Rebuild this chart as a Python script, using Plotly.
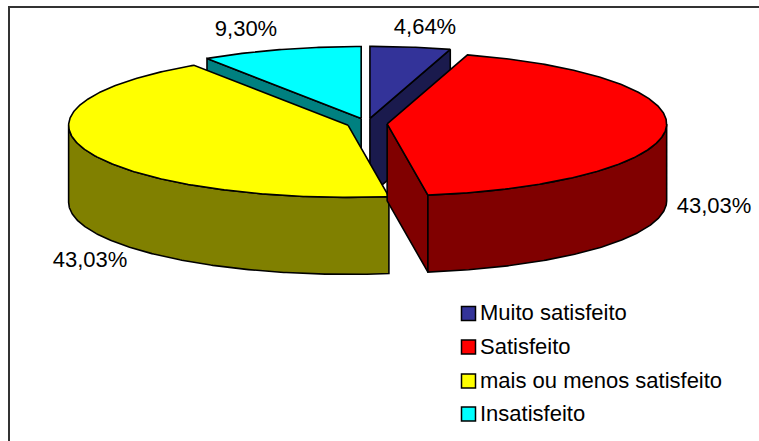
import numpy as np
import plotly.graph_objects as go

# Survey results
categories = ["Muito satisfeito", "Satisfeito", "mais ou menos satisfeito", "Insatisfeito"]
shares = [4.64, 43.03, 43.03, 9.30]

# Colours of the top faces and of the darker side walls
top_colors = ["#333399", "#FF0000", "#FFFF00", "#00FFFF"]
side_colors = ["#1A1A4D", "#800000", "#808000", "#008080"]

# Pie geometry in canvas units
CX, CY = 367.0, 123.5
RX, RY = 279.5, 72.0
DEPTH = 77.0
EXPLODE = 20.2
OUTLINE = dict(color="#000000", width=1.6)

# Canvas placement of the value labels and legend rows
LABEL_POS = [(425, 28), (246, 30), (714, 207), (90, 261)]
LABEL_SLICE = [0, 3, 1, 2]
LEGEND_SWATCH_X = 468.5
LEGEND_TEXT_X = 480
LEGEND_ROWS = [313.5, 347, 381, 414]

FONT = "Liberation Sans, Arial, sans-serif"

# Slice start and end angles, clockwise from twelve o'clock
ends = np.cumsum(shares) / np.sum(shares) * 360.0
starts = np.concatenate(([0.0], ends[:-1]))


def apex(i):
    """Exploded apex of slice i."""
    mid = np.radians((starts[i] + ends[i]) / 2)
    return CX + EXPLODE * np.sin(mid), CY - EXPLODE * RY / RX * np.cos(mid)


def rim(i, a0, a1, drop=0.0):
    """Points on the rim of slice i between two angles."""
    ax, ay = apex(i)
    t = np.radians(np.linspace(a0, a1, max(int(abs(a1 - a0) * 2), 2)))
    return ax + RX * np.sin(t), ay - RY * np.cos(t) + drop


def polygon(xs, ys, color):
    return go.Scatter(
        x=list(xs) + [xs[0]], y=list(ys) + [ys[0]],
        mode="lines", fill="toself", fillcolor=color,
        line=OUTLINE, hoverinfo="skip", showlegend=False,
    )


def top_face(i):
    ax, ay = apex(i)
    rx, ry = rim(i, starts[i], ends[i])
    return polygon(np.r_[ax, rx], np.r_[ay, ry], top_colors[i])


def radial_face(i, angle):
    ax, ay = apex(i)
    rx, ry = rim(i, angle, angle)
    ex, ey = rx[0], ry[0]
    return polygon([ax, ex, ex, ax], [ay, ey, ey + DEPTH, ay + DEPTH], side_colors[i])


def outer_wall(i, a0, a1):
    tx, ty = rim(i, a0, a1)
    bx, by = rim(i, a1, a0, DEPTH)
    return polygon(np.r_[tx, bx], np.r_[ty, by], side_colors[i])


fig = go.Figure()

# Painted back to front
fig.add_trace(radial_face(3, starts[3]))
fig.add_trace(top_face(3))
fig.add_trace(radial_face(0, ends[0]))
fig.add_trace(top_face(0))
fig.add_trace(outer_wall(2, starts[2], 270.0))
fig.add_trace(top_face(2))
fig.add_trace(radial_face(1, ends[1]))
fig.add_trace(outer_wall(1, 90.0, ends[1]))
fig.add_trace(top_face(1))

# Value labels
for (lx, ly), idx in zip(LABEL_POS, LABEL_SLICE):
    fig.add_trace(go.Scatter(
        x=[lx], y=[ly], mode="text",
        text=[f"{shares[idx]:.2f}%".replace(".", ",")],
        textposition="middle center",
        textfont=dict(family=FONT, size=22, color="#000000"),
        hoverinfo="skip", showlegend=False,
    ))

# Legend block
for name, color, row in zip(categories, top_colors, LEGEND_ROWS):
    fig.add_trace(go.Scatter(
        x=[LEGEND_SWATCH_X], y=[row], mode="markers",
        marker=dict(symbol="square", size=14, color=color, line=dict(color="#000000", width=1.5)),
        hoverinfo="skip", showlegend=False,
    ))
    fig.add_trace(go.Scatter(
        x=[LEGEND_TEXT_X], y=[row + 1], mode="text", text=[name],
        textposition="middle right",
        textfont=dict(family=FONT, size=22, color="#000000"),
        hoverinfo="skip", showlegend=False,
    ))

fig.update_layout(
    width=759, height=441,
    margin=dict(l=0, r=0, t=0, b=0),
    paper_bgcolor="#FFFFFF", plot_bgcolor="#FFFFFF",
    xaxis=dict(range=[0, 759], visible=False, fixedrange=True),
    yaxis=dict(range=[441, 0], visible=False, fixedrange=True),
    # Chart frame: only its top and left sides fall inside the page
    shapes=[
        dict(type="line", xref="x", yref="y", x0=8, x1=759, y0=7, y1=7,
             line=dict(color="#333333", width=2)),
        dict(type="line", xref="x", yref="y", x0=9, x1=9, y0=6, y1=441,
             line=dict(color="#333333", width=2)),
    ],
)

fig.write_html("out.html")
